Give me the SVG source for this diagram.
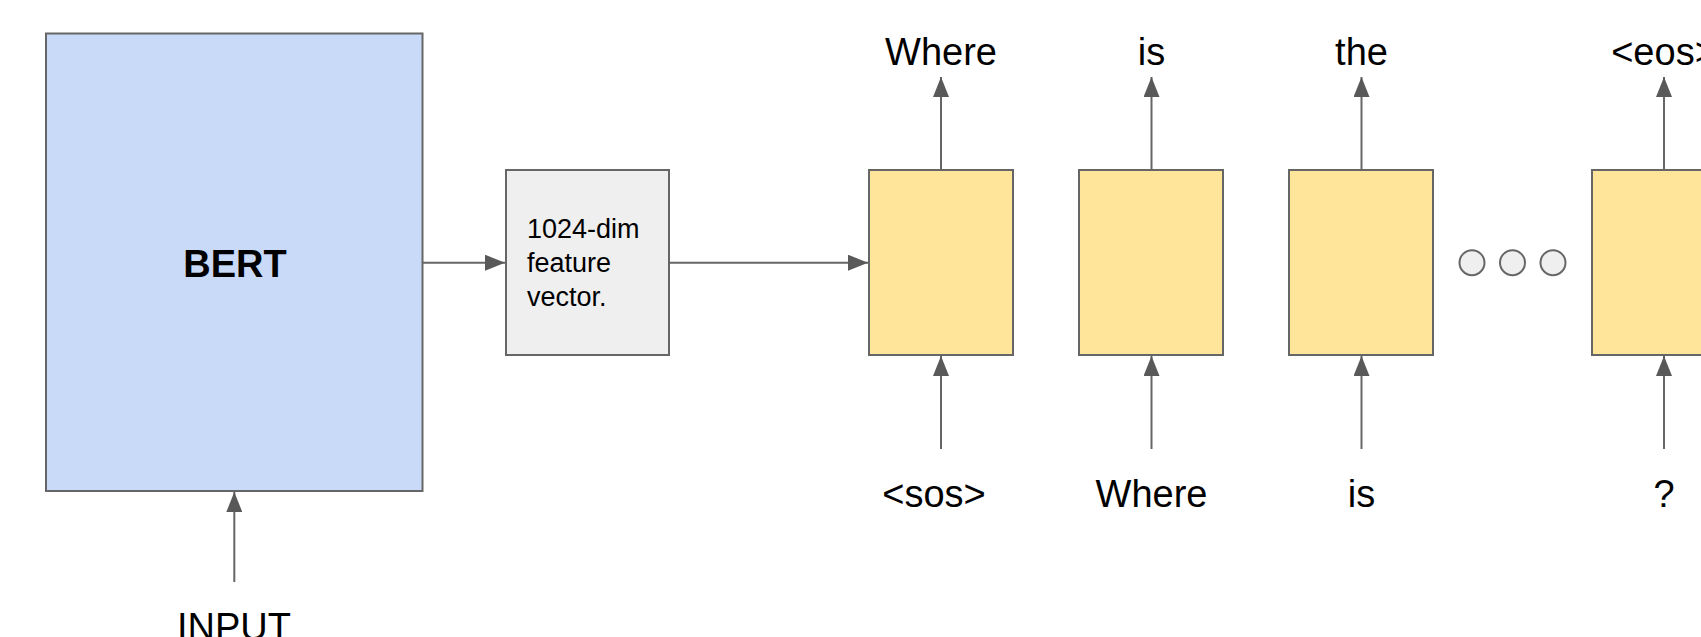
<svg xmlns="http://www.w3.org/2000/svg" width="1701" height="637" viewBox="0 0 1701 637">
  <style>
    .box { stroke: #666666; stroke-width: 2; }
    .enc { fill: #c9daf8; }
    .vec { fill: #efefef; }
    .dec { fill: #ffe599; }
    .dot { fill: #efefef; stroke: #666666; stroke-width: 2; }
    .link { stroke: #666666; stroke-width: 2; fill: none; marker-end: url(#head); }
    .word { font-family: "Liberation Sans", Arial, sans-serif; font-size: 38px; fill: #000000; text-anchor: middle; }
    .title { font-family: "Liberation Sans", Arial, sans-serif; font-size: 38px; font-weight: bold; fill: #000000; text-anchor: middle; }
    .note { font-family: "Liberation Sans", Arial, sans-serif; font-size: 27px; fill: #000000; }
  </style>
  <defs>
    <marker id="head" viewBox="0 0 20 16" refX="20" refY="8" markerWidth="20" markerHeight="16" markerUnits="userSpaceOnUse" orient="auto">
      <path d="M0,0 L20,8 L0,16 Z" fill="#595959"/>
    </marker>
  </defs>
  <rect width="1701" height="637" fill="#ffffff"/>

  <!-- encoder -->
  <g id="bert">
    <rect class="box enc" x="46" y="33.5" width="376.5" height="457.5"/>
    <text class="title" x="235" y="277">BERT</text>
  </g>

  <!-- pooled feature vector -->
  <g id="feature">
    <rect class="box vec" x="506" y="170" width="163" height="185"/>
    <text class="note" x="527" y="238">1024-dim</text>
    <text class="note" x="527" y="272">feature</text>
    <text class="note" x="527" y="306">vector.</text>
  </g>

  <!-- decoder steps -->
  <g id="step1">
    <rect class="box dec" x="869" y="170" width="144" height="185"/>
  </g>
  <g id="step2">
    <rect class="box dec" x="1079" y="170" width="144" height="185"/>
  </g>
  <g id="step3">
    <rect class="box dec" x="1289" y="170" width="144" height="185"/>
  </g>
  <g id="ellipsis">
    <circle class="dot" cx="1472" cy="262.7" r="12.5"/>
    <circle class="dot" cx="1512.5" cy="262.7" r="12.5"/>
    <circle class="dot" cx="1553" cy="262.7" r="12.5"/>
  </g>
  <g id="stepN">
    <rect class="box dec" x="1592" y="170" width="144" height="185"/>
  </g>

  <!-- token labels -->
  <g id="labels">
    <text class="word" x="234" y="640">INPUT</text>
    <text class="word" x="941" y="65">Where</text>
    <text class="word" x="1151.5" y="65">is</text>
    <text class="word" x="1361.5" y="65">the</text>
    <text class="word" x="1664" y="65">&lt;eos&gt;</text>
    <text class="word" x="934" y="507">&lt;sos&gt;</text>
    <text class="word" x="1151.5" y="507">Where</text>
    <text class="word" x="1361.5" y="507">is</text>
    <text class="word" x="1664" y="507">?</text>
  </g>

  <!-- connectors -->
  <g id="connectors">
    <line class="link" x1="234.3" y1="582" x2="234.3" y2="492"/>
    <line class="link" x1="422.5" y1="262.7" x2="505" y2="262.7"/>
    <line class="link" x1="669" y1="262.7" x2="868" y2="262.7"/>

    <line class="link" x1="941" y1="170" x2="941" y2="77"/>
    <line class="link" x1="1151.5" y1="170" x2="1151.5" y2="77"/>
    <line class="link" x1="1361.5" y1="170" x2="1361.5" y2="77"/>
    <line class="link" x1="1664" y1="170" x2="1664" y2="77"/>

    <line class="link" x1="941" y1="449" x2="941" y2="356"/>
    <line class="link" x1="1151.5" y1="449" x2="1151.5" y2="356"/>
    <line class="link" x1="1361.5" y1="449" x2="1361.5" y2="356"/>
    <line class="link" x1="1664" y1="449" x2="1664" y2="356"/>
  </g>
</svg>
